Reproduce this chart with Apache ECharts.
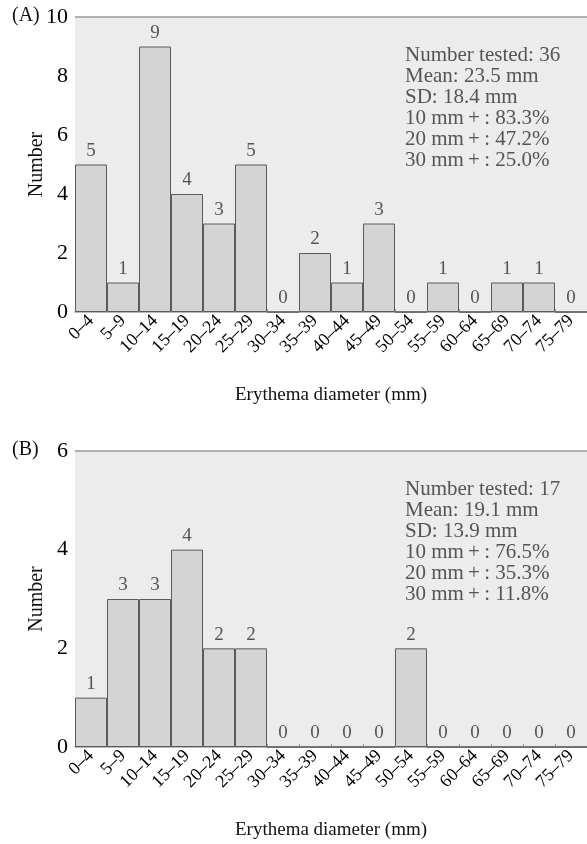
<!DOCTYPE html>
<html><head><meta charset="utf-8">
<script src="https://cdn.jsdelivr.net/npm/echarts@6/dist/echarts.min.js"></script>
<style>html,body{margin:0;padding:0;background:#fff}#c{width:587px;height:844px}</style>
</head><body><div id="c"></div>
<script>
const categories = ['0–4','5–9','10–14','15–19','20–24','25–29','30–34','35–39','40–44','45–49','50–54','55–59','60–64','65–69','70–74','75–79'];
const valuesA = [5,1,9,4,3,5,0,2,1,3,0,1,0,1,1,0];
const valuesB = [1,3,3,4,2,2,0,0,0,0,2,0,0,0,0,0];
const statsA = ['Number tested: 36','Mean: 23.5 mm','SD: 18.4 mm','10 mm\u2009+\u2009: 83.3%','20 mm\u2009+\u2009: 47.2%','30 mm\u2009+\u2009: 25.0%'];
const statsB = ['Number tested: 17','Mean: 19.1 mm','SD: 13.9 mm','10 mm\u2009+\u2009: 76.5%','20 mm\u2009+\u2009: 35.3%','30 mm\u2009+\u2009: 11.8%'];
const panelLabels = ['(A)','(B)'];
const yMaxA = 10, yMaxB = 6;

const serif = '"Liberation Serif", "DejaVu Serif", serif';
const chart = echarts.init(document.getElementById('c'), null, {renderer:'canvas'});

function xAxis(gi){
  return {
    type:'category', gridIndex:gi, data:categories,
    axisLine:{show:true, lineStyle:{color:'#b8b8b8', width:2}},
    axisTick:{show:true, inside:true, length:3, lineStyle:{color:'#999'}},
    axisLabel:{rotate:45, interval:0, margin:6, color:'#000', fontFamily:serif, fontSize:18},
    name:'Erythema diameter (mm)', nameLocation:'middle', nameGap:74,
    nameTextStyle:{color:'#111', fontFamily:serif, fontSize:19}
  };
}
function yAxis(gi, max, gap){
  return {
    type:'value', gridIndex:gi, min:0, max:max, interval:2,
    axisLine:{show:false}, axisTick:{show:false}, splitLine:{show:false},
    axisLabel:{color:'#000', fontFamily:serif, fontSize:22, margin:7},
    name:'Number', nameLocation:'middle', nameGap:gap, nameRotate:90, nameMoveOverlap:false,
    nameTextStyle:{color:'#111', fontFamily:serif, fontSize:20}
  };
}
function barSeries(gi, data){
  return {
    type:'bar', xAxisIndex:gi, yAxisIndex:gi, data:data,
    barCategoryGap:'0%',
    itemStyle:{color:'#d4d4d4', borderColor:'#5a5a5a', borderWidth:1},
    label:{show:true, position:'top', distance:4, color:'#555', fontFamily:serif, fontSize:19},
    silent:true, animation:false
  };
}
function statsGraphic(lines, top){
  return {
    type:'text', left:405, top:top,
    style:{text:lines.join('\n'), fill:'#555', font:'21px ' + serif, lineHeight:21}
  };
}

chart.setOption({
  animation:false,
  grid:[
    {left:75, top:17, width:512, height:295, show:true, backgroundColor:'#ececec', borderWidth:0},
    {left:75, top:451, width:512, height:296, show:true, backgroundColor:'#ececec', borderWidth:0}
  ],
  xAxis:[xAxis(0), xAxis(1)],
  yAxis:[yAxis(0, yMaxA, 28), yAxis(1, yMaxB, 28)],
  series:[barSeries(0, valuesA), barSeries(1, valuesB)],
  graphic:[
    {type:'line', shape:{x1:75,y1:17,x2:587,y2:17}, style:{stroke:'#9a9a9a', lineWidth:1.5}},
    {type:'line', shape:{x1:75,y1:451,x2:587,y2:451}, style:{stroke:'#9a9a9a', lineWidth:1.5}},
    {type:'text', left:12, top:6, style:{text:panelLabels[0], fill:'#111', font:'20px ' + serif}},
    {type:'text', left:12, top:440, style:{text:panelLabels[1], fill:'#111', font:'20px ' + serif}},
    statsGraphic(statsA, 45),
    statsGraphic(statsB, 479)
  ]
});
</script></body></html>
